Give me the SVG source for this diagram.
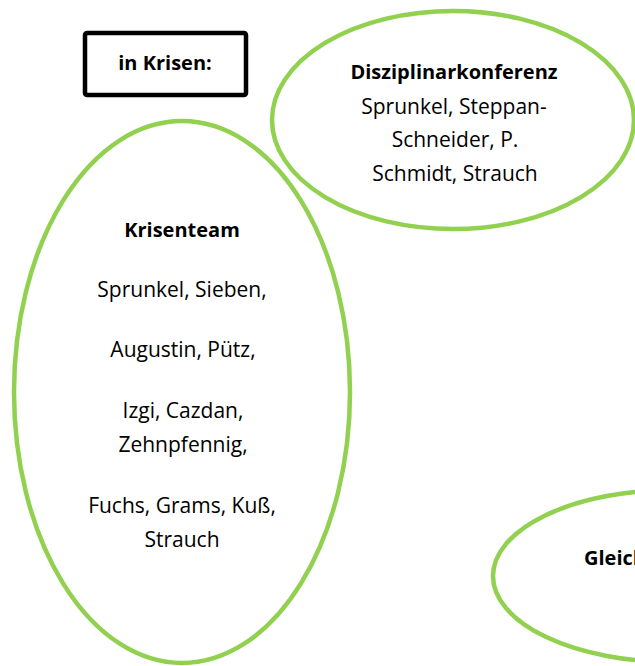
<svg xmlns="http://www.w3.org/2000/svg" width="635" height="666" viewBox="0 0 635 666">
<style>
.bg{fill:#ffffff}
.oval{fill:none;stroke:#92D050;stroke-width:4.5}
.box{fill:#ffffff;stroke:#000000;stroke-width:4.5}
text{font-family:"Open Sans","DejaVu Sans",sans-serif;fill:#000000;text-anchor:middle}
.t{font-size:21px}
.b{font-size:20px;font-weight:bold}
</style>
<rect class="bg" x="0" y="0" width="635" height="666"/>
<g id="connectors"></g>
<g id="node-krisen-label">
<rect class="box" x="85" y="33" width="161" height="62" rx="2"/>
<text class="b" x="165" y="70">in Krisen:</text>
</g>
<g id="node-disziplinarkonferenz">
<ellipse class="oval" cx="453" cy="120" rx="181" ry="109"/>
<text class="b" x="454" y="79">Disziplinarkonferenz</text>
<text class="t" x="454" y="114">Sprunkel, Steppan-</text>
<text class="t" x="455" y="147">Schneider, P.</text>
<text class="t" x="455" y="181">Schmidt, Strauch</text>
</g>
<g id="node-krisenteam">
<ellipse class="oval" cx="182" cy="392" rx="168" ry="271"/>
<text class="b" x="182" y="237">Krisenteam</text>
<text class="t" x="182" y="297">Sprunkel, Sieben,</text>
<text class="t" x="183" y="357">Augustin, Pütz,</text>
<text class="t" x="183" y="418">Izgi, Cazdan,</text>
<text class="t" x="183" y="452">Zehnpfennig,</text>
<text class="t" x="182" y="513">Fuchs, Grams, Kuß,</text>
<text class="t" x="182" y="547">Strauch</text>
</g>
<g id="node-gleich">
<ellipse class="oval" cx="673" cy="576" rx="180" ry="86"/>
<text class="b" x="584" y="565" style="text-anchor:start">Gleich</text>
</g>
</svg>
